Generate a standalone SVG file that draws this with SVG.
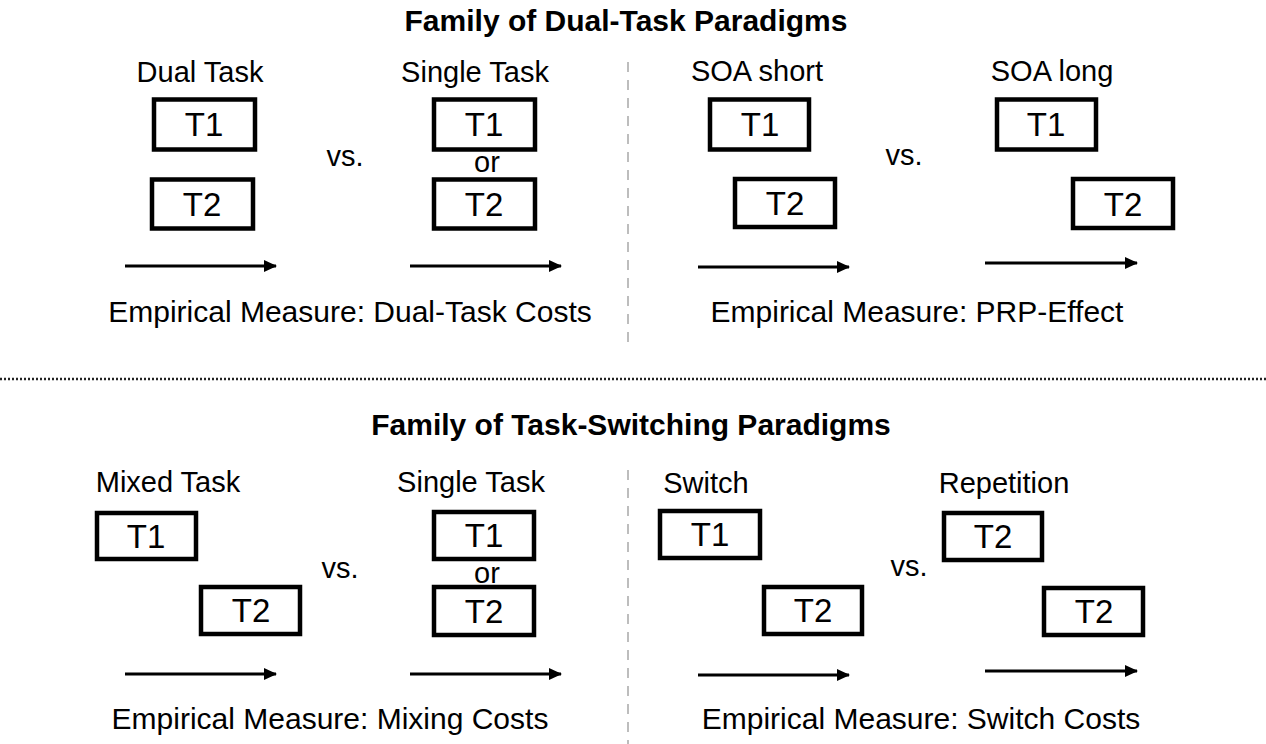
<svg xmlns="http://www.w3.org/2000/svg" width="1266" height="744" viewBox="0 0 1266 744">
  <defs>
    <marker id="head" markerWidth="13" markerHeight="12" refX="12" refY="6" orient="auto" markerUnits="userSpaceOnUse">
      <path d="M0,0 L13,6 L0,12 Z" fill="#000"/>
    </marker>
    <style>
      text { font-family: "Liberation Sans", Arial, sans-serif; fill: #000; }
      .title { font-size: 30px; font-weight: bold; text-anchor: middle; }
      .lbl { font-size: 29px; text-anchor: middle; }
      .measure { font-size: 30px; text-anchor: middle; }
      .box rect { fill: #fff; stroke: #000; stroke-width: 4.5; }
      .box text { font-size: 33px; text-anchor: middle; }
      .arrow { stroke: #000; stroke-width: 3; fill: none; marker-end: url(#head); }
      .vdash { stroke: #bdbdbd; stroke-width: 2; stroke-dasharray: 10 8; }
      .hdot { stroke: #222; stroke-width: 2.5; stroke-dasharray: 2 2; }
    </style>
  </defs>
  <rect width="1266" height="744" fill="#fff"/>

  <!-- separators -->
  <g id="separators">
    <line class="vdash" x1="628" y1="62" x2="628" y2="342"/>
    <line class="vdash" x1="628" y1="470" x2="628" y2="744"/>
    <line class="hdot" x1="0" y1="379" x2="1266" y2="379"/>
  </g>

  <!-- section titles -->
  <text class="title" x="626" y="31">Family of Dual-Task Paradigms</text>
  <text class="title" x="631" y="435">Family of Task-Switching Paradigms</text>

  <!-- condition labels -->
  <g id="labels">
    <text class="lbl" x="200" y="82">Dual Task</text>
    <text class="lbl" x="475" y="82">Single Task</text>
    <text class="lbl" x="757" y="81">SOA short</text>
    <text class="lbl" x="1052" y="81">SOA long</text>
    <text class="lbl" x="345" y="166">vs.</text>
    <text class="lbl" x="487" y="172">or</text>
    <text class="lbl" x="904" y="165">vs.</text>
    <text class="measure" x="350" y="322">Empirical Measure: Dual-Task Costs</text>
    <text class="measure" x="917" y="322">Empirical Measure: PRP-Effect</text>

    <text class="lbl" x="168" y="492">Mixed Task</text>
    <text class="lbl" x="471" y="492">Single Task</text>
    <text class="lbl" x="706" y="493">Switch</text>
    <text class="lbl" x="1004" y="493">Repetition</text>
    <text class="lbl" x="340" y="578">vs.</text>
    <text class="lbl" x="487" y="583">or</text>
    <text class="lbl" x="909" y="576">vs.</text>
    <text class="measure" x="330" y="729">Empirical Measure: Mixing Costs</text>
    <text class="measure" x="921" y="729">Empirical Measure: Switch Costs</text>
  </g>

  <!-- dual task: both tasks -->
  <g id="dual-t1" class="box"><rect x="154" y="99.5" width="101" height="50"/><text x="204" y="136">T1</text></g>
  <g id="dual-t2" class="box"><rect x="152" y="179.5" width="101" height="49"/><text x="202" y="216">T2</text></g>
  <!-- single task -->
  <g id="single-t1" class="box"><rect x="434" y="99.5" width="101" height="50"/><text x="484" y="136">T1</text></g>
  <g id="single-t2" class="box"><rect x="434" y="179.5" width="101" height="49"/><text x="484" y="216">T2</text></g>
  <!-- SOA short -->
  <g id="soa-short-t1" class="box"><rect x="710" y="99.5" width="99" height="50"/><text x="760" y="136">T1</text></g>
  <g id="soa-short-t2" class="box"><rect x="735" y="179" width="100" height="48"/><text x="785" y="215">T2</text></g>
  <!-- SOA long -->
  <g id="soa-long-t1" class="box"><rect x="997" y="99.5" width="99" height="50"/><text x="1046" y="136">T1</text></g>
  <g id="soa-long-t2" class="box"><rect x="1073" y="179" width="100" height="49"/><text x="1123" y="216">T2</text></g>

  <!-- mixed task -->
  <g id="mixed-t1" class="box"><rect x="97" y="513" width="99" height="46"/><text x="146" y="548">T1</text></g>
  <g id="mixed-t2" class="box"><rect x="201" y="587" width="99" height="47"/><text x="251" y="622">T2</text></g>
  <!-- single task (switching) -->
  <g id="single2-t1" class="box"><rect x="434" y="512" width="100" height="47"/><text x="484" y="547">T1</text></g>
  <g id="single2-t2" class="box"><rect x="434" y="587" width="100" height="48"/><text x="484" y="623">T2</text></g>
  <!-- switch -->
  <g id="switch-t1" class="box"><rect x="660" y="511" width="100" height="47"/><text x="710" y="546">T1</text></g>
  <g id="switch-t2" class="box"><rect x="764" y="587" width="98" height="47"/><text x="813" y="622">T2</text></g>
  <!-- repetition -->
  <g id="rep-t2a" class="box"><rect x="944" y="513" width="98" height="47"/><text x="993" y="548">T2</text></g>
  <g id="rep-t2b" class="box"><rect x="1044" y="588" width="99" height="47"/><text x="1094" y="623">T2</text></g>

  <!-- time arrows -->
  <g id="connectors">
    <line class="arrow" x1="125" y1="266" x2="276" y2="266"/>
    <line class="arrow" x1="410" y1="266" x2="561" y2="266"/>
    <line class="arrow" x1="698" y1="267" x2="849" y2="267"/>
    <line class="arrow" x1="985" y1="263" x2="1137" y2="263"/>
    <line class="arrow" x1="125" y1="674" x2="276" y2="674"/>
    <line class="arrow" x1="410" y1="674" x2="561" y2="674"/>
    <line class="arrow" x1="698" y1="675" x2="849" y2="675"/>
    <line class="arrow" x1="985" y1="671" x2="1137" y2="671"/>
  </g>
</svg>
